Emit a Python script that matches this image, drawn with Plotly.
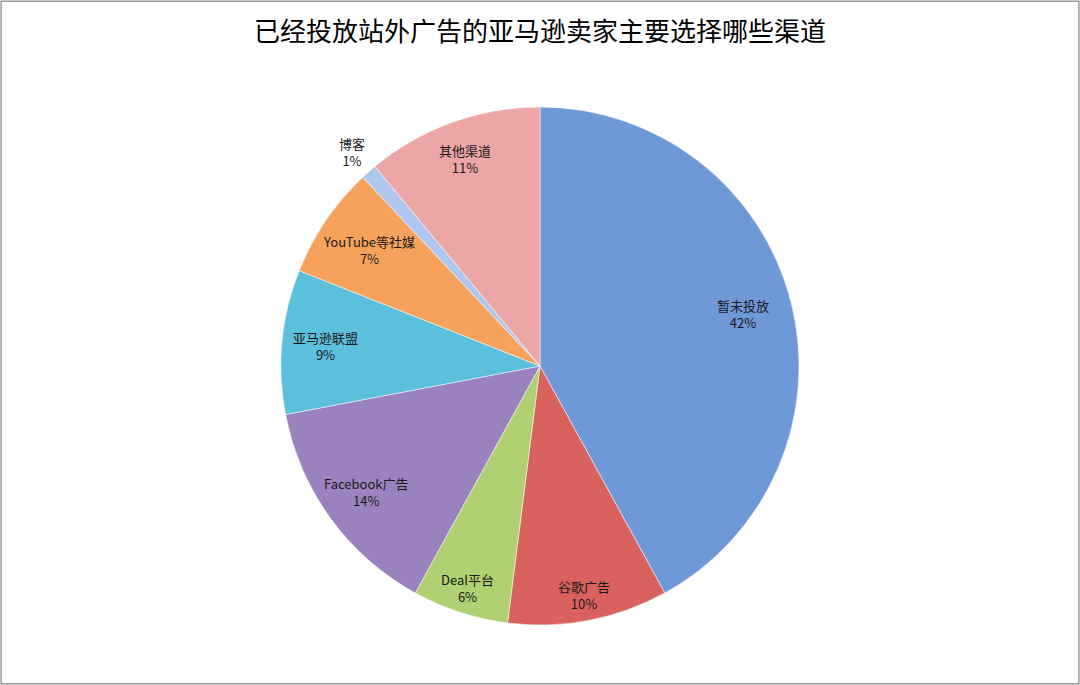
import math
import plotly.graph_objects as go

# channels chosen by Amazon sellers who already run off-site ads
labels = ["暂未投放", "谷歌广告", "Deal平台", "Facebook广告", "亚马逊联盟", "YouTube等社媒", "博客", "其他渠道"]
values = [42, 10, 6, 14, 9, 7, 1, 11]
colors = ["#6f98d8", "#d9625f", "#b1d071", "#9a82bf", "#5cc0dc", "#f6a25c", "#aec6f0", "#eca6a6"]
# how far out (fraction of radius) each label sits
label_r = [0.81, 0.9, 0.9, 0.83, 0.83, 0.8, 1.1, 0.85]

W, H = 1080, 685
cx, cy, R = 540, 366, 259

fig = go.Figure(go.Pie(
    labels=labels,
    values=values,
    sort=False,
    direction="clockwise",
    rotation=0,
    marker=dict(colors=colors, line=dict(color="white", width=0.5)),
    textinfo="none",
    domain=dict(x=[(cx - R) / W, (cx + R) / W], y=[(H - cy - R) / H, (H - cy + R) / H]),
    showlegend=False,
    hoverinfo="label+percent",
))

# data labels placed along each slice's mid angle
total = sum(values)
cum = 0
annotations = []
for lab, v, fr in zip(labels, values, label_r):
    mid = (cum + v / 2) / total * 2 * math.pi
    cum += v
    px_ = cx + fr * R * math.sin(mid)
    py_ = cy - fr * R * math.cos(mid)
    annotations.append(dict(
        x=px_ / W, y=1 - py_ / H, xref="paper", yref="paper",
        xanchor="center", yanchor="middle",
        text=f"{lab}<br>{round(v / total * 100)}%", showarrow=False,
        font=dict(family="Noto Sans CJK SC, sans-serif", size=13, color="#1a1a1a"),
        align="center",
    ))

fig.update_layout(
    width=W, height=H,
    margin=dict(l=0, r=0, t=0, b=0),
    paper_bgcolor="white",
    title=dict(text="已经投放站外广告的亚马逊卖家主要选择哪些渠道",
               x=0.5, xanchor="center", y=1 - 32 / H, yanchor="middle",
               font=dict(family="Noto Sans CJK SC, sans-serif", size=26, color="black")),
    annotations=annotations,
    shapes=[dict(type="rect", xref="paper", yref="paper", x0=0.001, x1=0.999, y0=0.002, y1=0.998,
                 line=dict(color="#9a9a9a", width=1.5))],
)

fig.write_html("out.html", config={"displayModeBar": False},
               post_script="document.body.style.margin='0';")
